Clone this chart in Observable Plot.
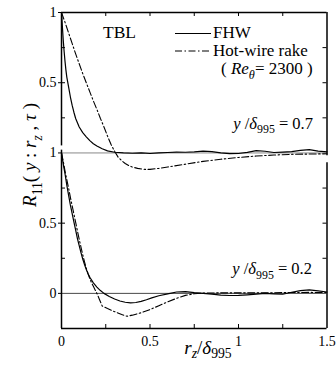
<!DOCTYPE html>
<html><head><meta charset="utf-8">
<script src="https://cdn.jsdelivr.net/npm/d3@7"></script>
<script src="https://cdn.jsdelivr.net/npm/@observablehq/plot@0.6"></script>
<style>body{margin:0;background:#fff} svg{display:block}</style>
</head><body><div id="chart"></div>
<script>
// ---- data (top panel y/δ995 = 0.7, bottom panel y/δ995 = 0.2) ----
const fhwTop = [[0,1],[0.005,0.9],[0.01,0.8],[0.015,0.72],[0.02,0.65],[0.025,0.59],[0.03,0.54],[0.04,0.47],[0.05,0.4],[0.06,0.34],[0.07,0.29],[0.08,0.245],[0.1,0.185],[0.12,0.145],[0.14,0.115],[0.16,0.088],[0.18,0.066],[0.2,0.05],[0.23,0.03],[0.26,0.015],[0.3,0.005],[0.35,0.0],[0.4,-0.002],[0.45,0.0],[0.5,-0.004],[0.55,0.0],[0.6,0.003],[0.65,0.006],[0.7,0.005],[0.75,0.008],[0.8,0.013],[0.85,0.01],[0.9,0.0],[0.95,-0.005],[1.0,-0.004],[1.05,0.004],[1.1,0.016],[1.15,0.012],[1.2,0.003],[1.25,0.006],[1.3,0.01],[1.35,0.018],[1.4,0.024],[1.45,0.013],[1.5,0.008]];
const rakeTop = [[0,1],[0.02,0.93],[0.04,0.855],[0.06,0.78],[0.08,0.705],[0.1,0.635],[0.12,0.565],[0.14,0.5],[0.16,0.435],[0.18,0.37],[0.2,0.31],[0.22,0.245],[0.24,0.185],[0.26,0.12],[0.28,0.06],[0.3,0.012],[0.32,-0.03],[0.34,-0.055],[0.36,-0.075],[0.38,-0.09],[0.4,-0.1],[0.43,-0.11],[0.47,-0.117],[0.5,-0.117],[0.55,-0.11],[0.6,-0.1],[0.7,-0.08],[0.8,-0.06],[0.9,-0.045],[1.0,-0.032],[1.1,-0.022],[1.2,-0.015],[1.3,-0.01],[1.4,-0.008],[1.5,-0.006]];
const fhwBot = [[0,1],[0.01,0.92],[0.02,0.85],[0.03,0.77],[0.04,0.7],[0.05,0.63],[0.06,0.57],[0.07,0.51],[0.08,0.45],[0.09,0.39],[0.1,0.34],[0.11,0.29],[0.12,0.245],[0.13,0.205],[0.14,0.17],[0.15,0.14],[0.16,0.115],[0.18,0.075],[0.2,0.045],[0.22,0.02],[0.24,0.0],[0.27,-0.022],[0.3,-0.04],[0.33,-0.054],[0.36,-0.063],[0.39,-0.067],[0.42,-0.065],[0.45,-0.057],[0.48,-0.045],[0.51,-0.032],[0.55,-0.017],[0.6,-0.003],[0.65,0.01],[0.7,0.012],[0.75,0.005],[0.8,0.0],[0.85,-0.005],[0.9,-0.012],[0.95,-0.015],[1.0,-0.014],[1.05,-0.01],[1.1,-0.005],[1.15,0.0],[1.2,-0.003],[1.25,-0.006],[1.3,0.008],[1.35,0.02],[1.4,0.025],[1.45,0.018],[1.5,0.01]];
const rakeBot = [[0,1],[0.01,0.94],[0.02,0.87],[0.03,0.81],[0.04,0.75],[0.05,0.685],[0.06,0.625],[0.07,0.565],[0.08,0.505],[0.09,0.445],[0.1,0.385],[0.11,0.33],[0.12,0.275],[0.13,0.225],[0.14,0.18],[0.15,0.14],[0.16,0.105],[0.17,0.075],[0.18,0.05],[0.19,0.025],[0.2,0.0],[0.215,-0.045],[0.23,-0.09],[0.26,-0.108],[0.3,-0.13],[0.34,-0.15],[0.37,-0.163],[0.4,-0.155],[0.45,-0.138],[0.5,-0.115],[0.55,-0.088],[0.6,-0.06],[0.65,-0.035],[0.7,-0.014],[0.75,-0.003],[0.8,0.002],[0.9,0.004],[1.0,0.004],[1.1,0.004],[1.2,0.005],[1.3,0.006],[1.4,0.007],[1.5,0.006]];

const panelOffset = {top: 1, bottom: 0};           // top panel drawn shifted up by 1
const xTickValues = [0, 0.5, 1, 1.5];
const xTickLabels = ["0", "0.5", "1", "1.5"];
const xMinorTicks = [0.25, 0.5, 0.75, 1, 1.25];
const yTickValues = [2, 1.5, 1, 0.5, 0];
const yTickLabels = ["1", "0.5", "1", "0.5", "0"];
const yMinorTicks = [1.75, 1.5, 1.25, 0.75, 0.5, 0.25];
const frameLeft = [{y1: 2, y2: 1.05}, {y1: 1.02, y2: -0.25}];
const frameRight = [{y1: 2, y2: 0.98}, {y1: 0.93, y2: -0.25}];

const W = 336, H = 365, ML = 61, MR = 9.5, MT = 12, MB = 37;
const PW = W - ML - MR, PH = H - MT - MB;
const FONT = "'Liberation Serif','Times New Roman',serif";
const dashDot = "7,2.5,1.5,2.5";

const plot = Plot.plot({
  width: W, height: H,
  marginLeft: ML, marginRight: MR, marginTop: MT, marginBottom: MB,
  x: {domain: [0, 1.5]},
  y: {domain: [-0.25, 2]},
  style: {fontFamily: FONT, fontSize: "14px", background: "white", color: "black"},
  marks: [
    Plot.ruleY([panelOffset.top], {stroke: "#888", strokeWidth: 1}),
    Plot.ruleY([panelOffset.bottom], {stroke: "#333", strokeWidth: 0.9}),
    Plot.axisX({ticks: xTickValues, tickFormat: d => xTickLabels[xTickValues.indexOf(d)], tickSize: 0, tickPadding: 8, label: null, fontSize: 14}),
    Plot.axisY({ticks: yTickValues, tickFormat: d => yTickLabels[yTickValues.indexOf(d)], tickSize: 3, tickPadding: 2, label: null, fontSize: 14}),
    Plot.tickX(xMinorTicks, {x: d => d, insetBottom: PH - 4, stroke: "black"}),
    Plot.tickX(xMinorTicks, {x: d => d, insetTop: PH - 4, stroke: "black"}),
    Plot.tickY(yMinorTicks, {y: d => d, insetRight: PW - 4, stroke: "black"}),
    Plot.tickY(yMinorTicks, {y: d => d, insetLeft: PW - 4, stroke: "black"}),
    Plot.ruleY([2, -0.25], {stroke: "black", strokeWidth: 1.5}),
    Plot.ruleX(frameLeft, {x: 0, y1: "y1", y2: "y2", stroke: "black", strokeWidth: 1.5}),
    Plot.ruleX(frameRight, {x: 1.5, y1: "y1", y2: "y2", stroke: "black", strokeWidth: 1.5}),
    Plot.line(fhwTop, {x: d => d[0], y: d => d[1] + panelOffset.top, stroke: "black", strokeWidth: 1.2}),
    Plot.line(rakeTop, {x: d => d[0], y: d => d[1] + panelOffset.top, stroke: "black", strokeWidth: 1.1, strokeDasharray: dashDot}),
    Plot.line(fhwBot, {x: d => d[0], y: d => d[1] + panelOffset.bottom, stroke: "black", strokeWidth: 1.2}),
    Plot.line(rakeBot, {x: d => d[0], y: d => d[1] + panelOffset.bottom, stroke: "black", strokeWidth: 1.1, strokeDasharray: dashDot})
  ]
});
document.getElementById("chart").appendChild(plot);

const svg = d3.select(plot);
function rich(parts, {x, y, anchor = "start", size, rotate = 0, subShift = 0.3}) {
  const t = svg.append("text")
    .attr("transform", `translate(${x},${y})` + (rotate ? ` rotate(${rotate})` : ""))
    .attr("text-anchor", anchor).attr("font-size", size)
    .attr("font-family", FONT).attr("fill", "black");
  let shift = 0;
  for (const p of parts) {
    const target = p.sub ? size * subShift : 0;
    const ts = t.append("tspan").text(p.t);
    if (target !== shift) { ts.attr("dy", target - shift); shift = target; }
    if (p.sub) ts.attr("font-size", size * 0.72);
    if (p.it) ts.attr("font-style", "italic");
  }
  return t;
}

// annotations
rich([{t: "TBL"}], {x: 103, y: 38, size: 17.5});
svg.append("line").attr("x1", 175).attr("x2", 211).attr("y1", 33.5).attr("y2", 33.5).attr("stroke", "black").attr("stroke-width", 1.2);
svg.append("line").attr("x1", 175).attr("x2", 211).attr("y1", 51).attr("y2", 51).attr("stroke", "black").attr("stroke-width", 1.1).attr("stroke-dasharray", dashDot);
rich([{t: "FHW"}], {x: 213, y: 37.5, size: 17});
rich([{t: "Hot-wire rake"}], {x: 213, y: 56, size: 17});
rich([{t: "( "}, {t: "Re", it: true}, {t: "θ", it: true, sub: true}, {t: "= 2300 )"}], {x: 221, y: 74, size: 17});
rich([{t: "y", it: true}, {t: " /"}, {t: "δ", it: true}, {t: "995", sub: true}, {t: " = 0.7"}], {x: 313, y: 128.5, anchor: "end", size: 16.5});
rich([{t: "y", it: true}, {t: " /"}, {t: "δ", it: true}, {t: "995", sub: true}, {t: " = 0.2"}], {x: 312, y: 274, anchor: "end", size: 16.5});
rich([{t: "r", it: true}, {t: "z", it: true, sub: true}, {t: "/"}, {t: "δ", it: true}, {t: "995", sub: true}], {x: 208, y: 354, anchor: "middle", size: 19, subShift: 0.22});
rich([{t: "R", it: true}, {t: "11", sub: true}, {t: "( "}, {t: "y", it: true}, {t: " : "}, {t: "r", it: true}, {t: "z", it: true, sub: true}, {t: " , "}, {t: "τ", it: true}, {t: " )"}], {x: 36, y: 155, anchor: "middle", size: 19, rotate: -90});
</script>
</body></html>
